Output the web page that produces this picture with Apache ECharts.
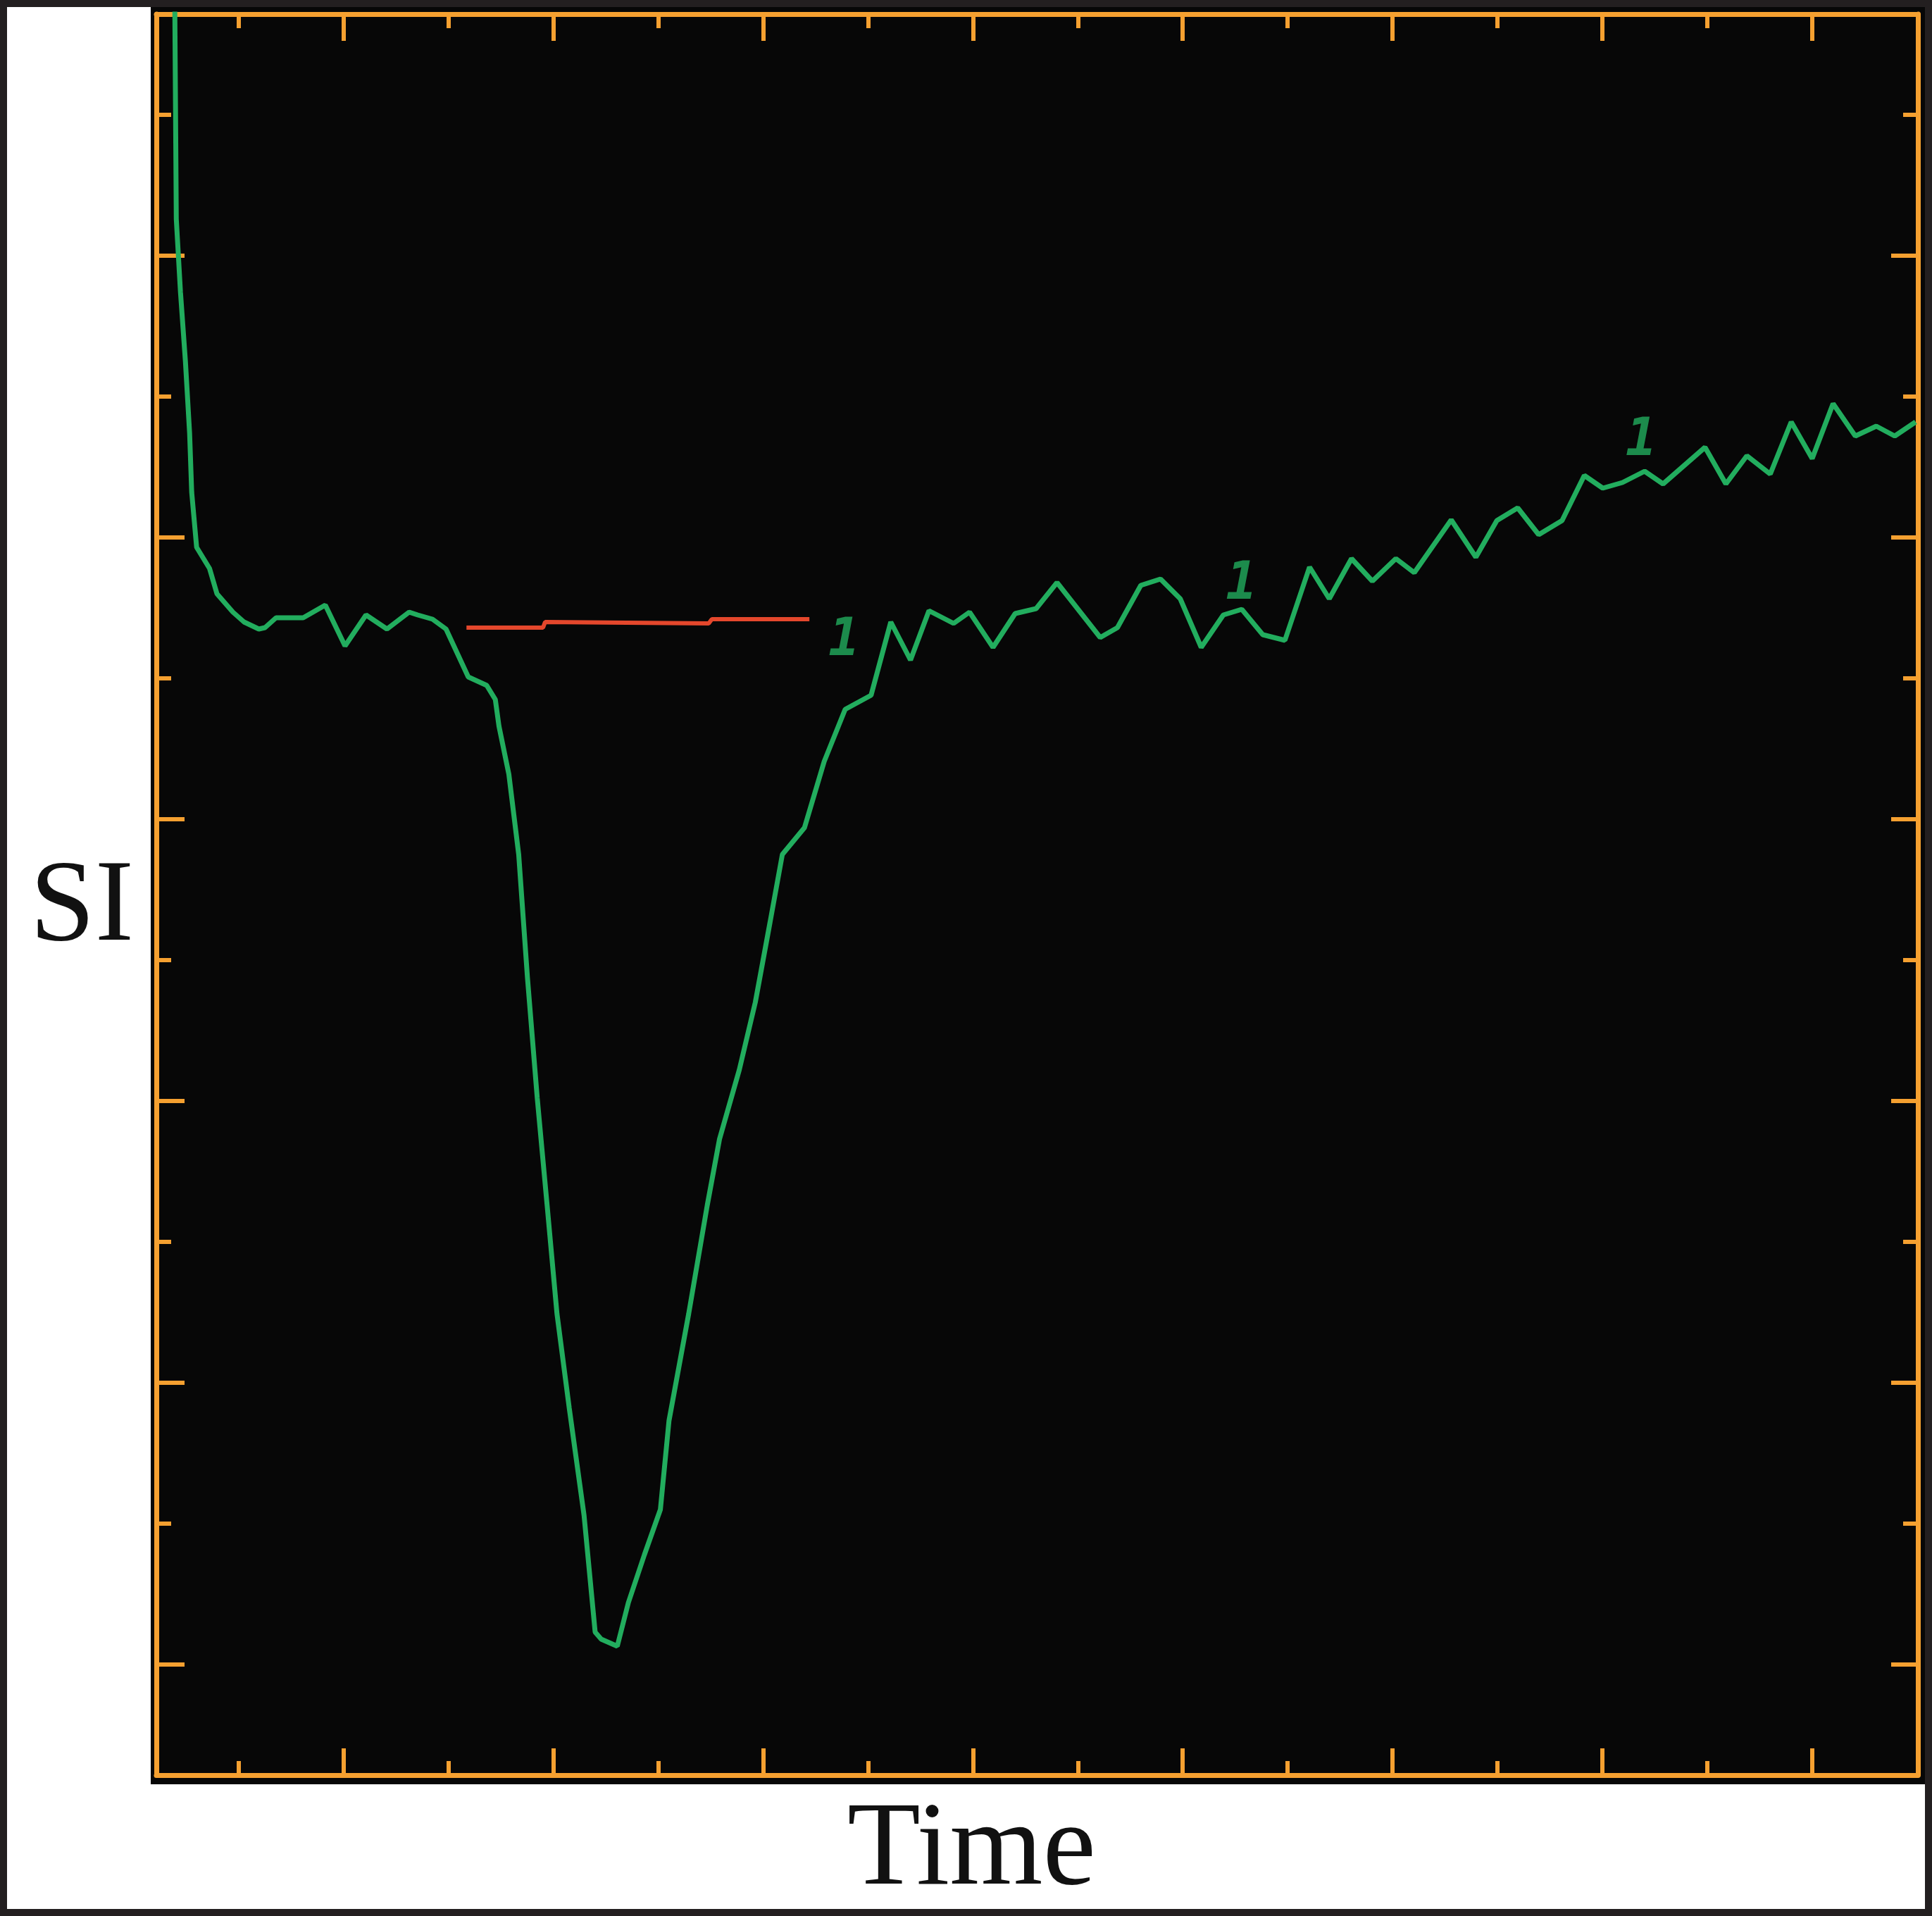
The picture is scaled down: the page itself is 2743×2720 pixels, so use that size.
<!DOCTYPE html>
<html>
<head>
<meta charset="utf-8">
<script src="https://cdn.jsdelivr.net/npm/echarts@6/dist/echarts.min.js"></script>
<style>
html, body { margin: 0; padding: 0; background: #ffffff; }
#chart { width: 2743px; height: 2720px; }
</style>
</head>
<body>
<div id="chart"></div>
<script>
// ---- data ----
const timeValues = [-6.15, -6.11, -5.97, -5.57, -5.10, -4.70, -4.50, -4.03, -2.80, -2.09,
  -0.57, 0.49, 1.90, 2.49, 3.54, 6.13, 8.24, 10.12, 12.12, 14.12,
  16.23, 17.05, 18.46, 19.75, 20.81, 21.87, 23.63, 24.45, 24.80, 25.74,
  26.68, 27.51, 28.45, 29.39, 30.33, 31.50, 32.91, 33.97, 34.55, 36.08,
  37.14, 38.67, 40.19, 41.01, 42.89, 44.66, 45.83, 47.71, 49.24, 50.65,
  51.82, 53.93, 55.81, 57.81, 60.28, 62.16, 64.04, 65.80, 68.15, 69.67,
  71.91, 74.02, 76.02, 78.01, 82.13, 83.77, 86.00, 87.88, 89.76, 91.76,
  93.87, 95.63, 97.63, 99.74, 102.09, 103.97, 106.09, 108.08, 110.32, 112.08,
  115.60, 117.95, 119.95, 121.94, 123.94, 126.17, 128.29, 130.05, 131.93, 134.04,
  135.80, 139.80, 141.79, 143.79, 146.02, 148.02, 150.02, 152.01, 154.13, 156.13,
  157.89, 159.88];
const siValues = [119.0, 117.5, 102.6, 97.4, 92.5, 87.4, 83.2, 79.3, 77.8, 76.0,
  74.7, 74.0, 73.5, 73.6, 74.3, 74.3, 75.2, 72.3, 74.5, 73.5,
  74.7, 74.5, 74.2, 73.5, 71.8, 70.1, 69.5, 68.5, 66.6, 63.2,
  57.5, 48.8, 40.2, 32.6, 24.9, 18.2, 10.6, 2.3, 1.8, 1.3,
  4.4, 7.8, 11.0, 17.3, 24.9, 32.6, 37.3, 42.2, 47.0, 52.7,
  57.5, 59.4, 64.1, 67.8, 68.8, 74.0, 71.3, 74.8, 73.9, 74.7,
  72.2, 74.6, 74.95, 76.8, 72.9, 73.6, 76.6, 77.05, 75.65, 72.2,
  74.5, 74.9, 73.1, 72.7, 77.9, 75.65, 78.5, 76.9, 78.5, 77.5,
  81.25, 78.6, 81.2, 82.1, 80.2, 81.2, 84.4, 83.5, 83.9, 84.7,
  83.8, 86.4, 83.8, 85.8, 84.5, 88.2, 85.6, 89.5, 87.2, 87.9,
  87.2, 88.2];

// red baseline segment
const baselineTime = [21.7, 29.0, 29.2, 44.8, 45.1, 54.4];
const baselineSI   = [73.6, 73.6, 74.0, 73.9, 74.2, 74.2];

// "1" markers on the curve
const labelTime = [57.7, 95.6, 133.7];
const labelSI   = [72.6, 76.6, 86.8];
const labelText = ['1', '1', '1'];

// tick positions
const xTicksLong  = [10, 30, 50, 70, 90, 110, 130, 150];
const xTicksShort = [0, 20, 40, 60, 80, 100, 120, 140];
const yTicksLong  = [0, 20, 40, 60, 80, 100];
const yTicksShort = [10, 30, 50, 70, 90, 110];

const xTitle = 'Time';
const yTitle = 'SI';

// ---- build ----
const ORANGE = '#f5a030';
const GREEN = '#22ad5e';
const RED = '#e4472c';
const X_MIN = -7.87, X_MAX = 160.1;
const Y_MIN = -7.85, Y_MAX = 117.15;

const curve = timeValues.map((t, i) => [t, siValues[i]]);
const baseline = baselineTime.map((t, i) => [t, baselineSI[i]]);
const labels = labelTime.map((t, i) => ({ value: [t, labelSI[i]], name: labelText[i] }));

function xAxisDef(pos, ticks, len, showLine, name) {
  return {
    type: 'value', position: pos, min: X_MIN, max: X_MAX,
    axisLine: { show: showLine, onZero: false, lineStyle: { color: ORANGE, width: 7 } },
    axisTick: { show: true, inside: true, length: len, customValues: ticks,
                lineStyle: { color: ORANGE, width: 6 } },
    axisLabel: { show: false },
    splitLine: { show: false },
    name: name || '',
    nameLocation: 'middle',
    nameGap: 24,
    nameTextStyle: { color: '#111111', fontFamily: 'Liberation Serif', fontSize: 170,
                     padding: [0, 186, 0, 0] }
  };
}
function yAxisDef(pos, ticks, len, showLine) {
  return {
    type: 'value', position: pos, min: Y_MIN, max: Y_MAX,
    axisLine: { show: showLine, onZero: false, lineStyle: { color: ORANGE, width: 7 } },
    axisTick: { show: true, inside: true, length: len, customValues: ticks,
                lineStyle: { color: ORANGE, width: 6 } },
    axisLabel: { show: false },
    splitLine: { show: false }
  };
}

const chart = echarts.init(document.getElementById('chart'), null, { renderer: 'canvas' });
chart.setOption({
  animation: false,
  backgroundColor: '#ffffff',
  grid: { left: 222, right: 20, top: 20, bottom: 200, show: true,
          backgroundColor: '#070707', borderWidth: 0 },
  graphic: [
    { type: 'rect', z: -1, silent: true,
      shape: { x: 214, y: 9, width: 2519, height: 2524 },
      style: { fill: '#070707' } },
    { type: 'rect', z: -1, silent: true,
      shape: { x: 5, y: 5, width: 2733, height: 2710 },
      style: { fill: 'none', stroke: '#231f20', lineWidth: 10 } },
    { type: 'text', silent: true,
      style: { text: yTitle, x: 190, y: 1290, textAlign: 'right', textVerticalAlign: 'middle',
               fill: '#111111', font: '166px "Liberation Serif"' } }
  ],
  xAxis: [
    xAxisDef('bottom', xTicksLong, 38, true, xTitle),
    xAxisDef('bottom', xTicksShort, 20, false),
    xAxisDef('top', xTicksLong, 38, true),
    xAxisDef('top', xTicksShort, 20, false)
  ],
  yAxis: [
    yAxisDef('left', yTicksLong, 40, true),
    yAxisDef('left', yTicksShort, 21, false),
    yAxisDef('right', yTicksLong, 38, true),
    yAxisDef('right', yTicksShort, 21, false)
  ],
  series: [
    { type: 'line', xAxisIndex: 0, yAxisIndex: 0, data: curve, symbol: 'none',
      clip: true, z: 5, lineStyle: { color: GREEN, width: 7 } },
    { type: 'line', xAxisIndex: 0, yAxisIndex: 0, data: baseline, symbol: 'none',
      clip: true, z: 5, lineStyle: { color: RED, width: 6 } },
    { type: 'scatter', xAxisIndex: 0, yAxisIndex: 0, data: labels, symbolSize: 1,
      itemStyle: { color: 'rgba(0,0,0,0)' }, z: 6,
      label: { show: true, position: 'inside', formatter: p => p.name,
               color: GREEN, fontFamily: 'DejaVu Sans Mono', fontWeight: 'bold',
               fontStyle: 'italic', fontSize: 74 } }
  ]
});
</script>
</body>
</html>
